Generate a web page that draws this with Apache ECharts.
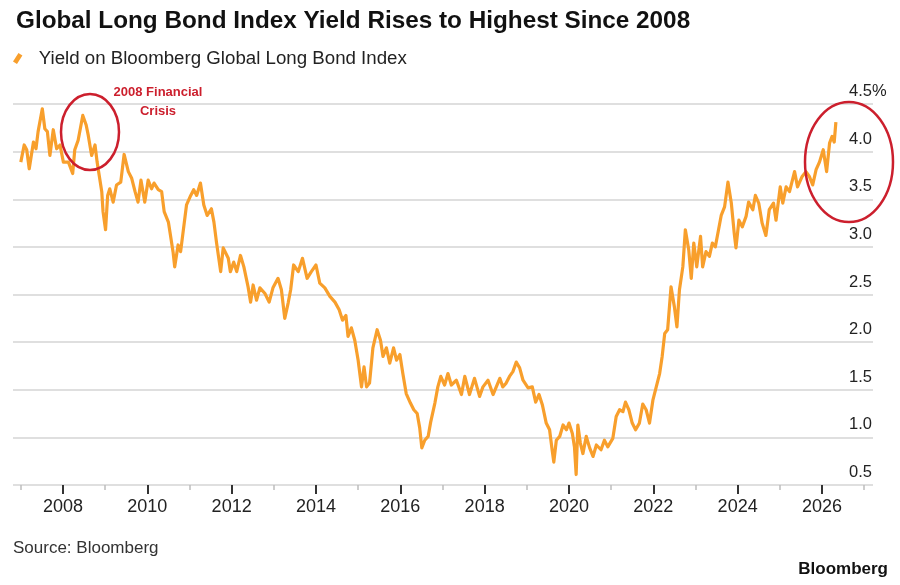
<!DOCTYPE html>
<html>
<head>
<meta charset="utf-8">
<script src="https://cdn.jsdelivr.net/npm/echarts@6/dist/echarts.min.js"></script>
<style>
html,body{margin:0;padding:0;background:#fff;}
#chart{width:900px;height:585px;}
</style>
</head>
<body>
<div id="chart"></div>
<script>
// ---- data (decimal year, yield %) ----
var years = [
2007.00,2007.08,2007.14,2007.20,2007.30,2007.36,2007.41,2007.51,2007.57,2007.63,2007.69,2007.77,2007.85,2007.93,
2008.01,2008.13,2008.23,2008.28,2008.36,2008.47,2008.55,2008.60,2008.68,2008.76,2008.81,2008.86,2008.92,2008.95,
2009.01,2009.06,2009.11,2009.19,2009.27,2009.37,2009.45,2009.55,2009.63,2009.71,2009.78,2009.85,2009.94,
2010.02,2010.10,2010.16,2010.26,2010.34,2010.40,2010.50,2010.55,2010.61,2010.65,2010.73,2010.79,2010.85,2010.93,
2011.03,2011.10,2011.17,2011.26,2011.34,2011.42,2011.52,2011.58,2011.64,2011.74,2011.80,2011.92,2011.97,
2012.05,2012.12,2012.21,2012.29,2012.39,2012.45,2012.51,2012.59,2012.67,2012.79,2012.89,2012.98,
2013.10,2013.18,2013.26,2013.34,2013.40,2013.47,2013.58,2013.68,2013.79,2013.89,
2014.00,2014.09,2014.21,2014.33,2014.45,2014.55,2014.63,2014.71,2014.76,2014.84,2014.92,
2015.00,2015.08,2015.14,2015.20,2015.27,2015.35,2015.45,2015.53,2015.59,2015.67,2015.75,2015.84,2015.91,2015.99,
2016.06,2016.14,2016.24,2016.32,2016.40,2016.46,2016.51,2016.58,2016.66,2016.72,2016.82,2016.89,2016.96,
2017.05,2017.13,2017.21,2017.33,2017.45,2017.53,2017.64,2017.76,2017.88,2017.96,
2018.08,2018.20,2018.36,2018.43,2018.51,2018.59,2018.67,2018.75,2018.83,2018.91,
2019.03,2019.13,2019.21,2019.29,2019.37,2019.46,2019.54,2019.60,2019.64,2019.70,2019.78,2019.86,2019.94,
2020.00,2020.08,2020.13,2020.17,2020.21,2020.27,2020.33,2020.41,2020.49,2020.57,2020.65,2020.76,2020.84,2020.92,
2021.04,2021.12,2021.20,2021.28,2021.34,2021.42,2021.50,2021.58,2021.67,2021.75,2021.83,2021.91,2021.99,
2022.07,2022.15,2022.21,2022.27,2022.34,2022.42,2022.50,2022.56,2022.62,2022.70,2022.76,2022.84,2022.90,2022.96,
2023.03,2023.12,2023.17,2023.25,2023.33,2023.40,2023.47,2023.53,2023.61,2023.69,2023.77,2023.85,2023.92,2023.96,
2024.03,2024.11,2024.20,2024.26,2024.36,2024.42,2024.50,2024.58,2024.67,2024.75,2024.85,2024.91,
2025.01,2025.07,2025.15,2025.23,2025.35,2025.42,2025.53,2025.62,2025.70,2025.78,2025.86,2025.94,
2026.03,2026.11,2026.18,2026.24,2026.29,2026.33
];
var yields = [
3.89,4.07,4.02,3.82,4.10,4.03,4.21,4.45,4.24,4.21,3.96,4.23,4.03,4.07,
3.89,3.89,3.77,4.02,4.12,4.38,4.28,4.17,3.96,4.07,3.89,3.75,3.58,3.37,
3.18,3.54,3.61,3.47,3.65,3.68,3.97,3.79,3.72,3.58,3.47,3.70,3.47,
3.70,3.61,3.67,3.60,3.58,3.37,3.26,3.12,2.95,2.79,3.02,2.95,3.16,3.44,
3.54,3.60,3.54,3.67,3.44,3.33,3.40,3.26,3.05,2.74,2.99,2.88,2.74,
2.84,2.74,2.91,2.79,2.58,2.42,2.60,2.44,2.57,2.51,2.42,2.57,
2.67,2.55,2.25,2.41,2.55,2.81,2.74,2.88,2.67,2.74,
2.81,2.62,2.57,2.48,2.42,2.34,2.23,2.28,2.06,2.15,2.02,
1.81,1.53,1.74,1.53,1.57,1.94,2.13,2.02,1.85,1.94,1.78,1.94,1.81,1.87,
1.67,1.46,1.36,1.29,1.25,1.10,0.89,0.97,1.01,1.16,1.36,1.53,1.64,
1.55,1.67,1.55,1.60,1.45,1.64,1.45,1.62,1.43,1.53,
1.60,1.45,1.62,1.53,1.57,1.64,1.69,1.79,1.73,1.60,
1.52,1.53,1.37,1.45,1.34,1.15,1.08,0.87,0.74,0.97,1.01,1.13,1.08,
1.15,1.04,0.90,0.61,1.13,0.94,0.83,1.01,0.89,0.80,0.92,0.87,0.97,0.90,
0.99,1.22,1.29,1.27,1.37,1.29,1.15,1.08,1.15,1.35,1.29,1.15,1.39,
1.53,1.67,1.85,2.09,2.13,2.58,2.37,2.16,2.55,2.79,3.18,2.97,2.67,3.04,
2.79,3.11,2.79,2.95,2.90,3.04,3.00,3.14,3.33,3.42,3.68,3.46,3.14,2.99,
3.28,3.21,3.32,3.47,3.39,3.54,3.46,3.25,3.12,3.39,3.46,3.28,
3.63,3.46,3.63,3.58,3.79,3.63,3.74,3.79,3.74,3.65,3.81,3.89,
4.02,3.79,4.09,4.16,4.10,4.31
];
var majorYears = [2008,2010,2012,2014,2016,2018,2020,2022,2024,2026];
var minorYears = [2007,2009,2011,2013,2015,2017,2019,2021,2023,2025,2027];
var seriesName = 'Yield on Bloomberg Global Long Bond Index';
var titleText = 'Global Long Bond Index Yield Rises to Highest Since 2008';
var sourceText = 'Source: Bloomberg';
var brandText = 'Bloomberg';
var noteText = '2008 Financial\nCrisis';

var points = years.map(function (y, i) { return [y, yields[i]]; });
var FONT = '"Liberation Sans", Arial, Helvetica, sans-serif';
var ORANGE = '#f89f2c';
var RED = '#cc1f2d';
var xMin = 2006.815, xMax = 2027.21;

var chart = echarts.init(document.getElementById('chart'), null, {renderer: 'canvas'});
chart.setOption({
  animation: false,
  backgroundColor: '#ffffff',
  textStyle: {fontFamily: FONT},
  title: {
    text: titleText,
    left: 11, top: 4,
    textStyle: {fontSize: 24.3, fontWeight: 'bold', color: '#111', fontFamily: FONT}
  },
  legend: {
    data: [seriesName],
    left: 8, top: 44,
    icon: 'path://M0,8.5 L5.5,0 L9.5,2.6 L4,11.1 Z',
    itemWidth: 10, itemHeight: 11,
    textStyle: {fontSize: 18.7, color: '#222', fontFamily: FONT, padding: [0, 0, 0, 11]}
  },
  grid: {left: 13, right: 27, top: 104, bottom: 100, containLabel: false},
  xAxis: [{
    type: 'value', min: xMin, max: xMax,
    axisLine: {show: false, onZero: false},
    splitLine: {show: false},
    axisTick: {show: true, customValues: majorYears, length: 9, lineStyle: {color: '#333', width: 2}},
    axisLabel: {customValues: majorYears, margin: 13, fontSize: 18, color: '#222', fontFamily: FONT,
      formatter: function (v) { return String(Math.round(v)); }}
  }, {
    type: 'value', min: xMin, max: xMax, position: 'bottom',
    axisLine: {show: false, onZero: false},
    splitLine: {show: false},
    axisTick: {show: true, customValues: minorYears, length: 5, lineStyle: {color: '#bdbdbd', width: 1.5}},
    axisLabel: {show: false}
  }],
  yAxis: {
    type: 'value', position: 'right', min: 0.5, max: 4.5, interval: 0.5,
    axisLine: {show: false}, axisTick: {show: false},
    splitLine: {show: true, lineStyle: {color: '#d4d4d4', width: 1.6}},
    axisLabel: {
      inside: true, margin: 24, align: 'left', verticalAlign: 'bottom',
      padding: [0, 0, 4, 0],
      fontSize: 16.5, color: '#222', fontFamily: FONT,
      formatter: function (v) { return v === 4.5 ? '4.5%' : v.toFixed(1); }
    }
  },
  series: [{
    name: seriesName, type: 'line', data: points,
    xAxisIndex: 0, yAxisIndex: 0,
    showSymbol: false, symbol: 'none',
    lineStyle: {color: ORANGE, width: 3.2, join: 'round'},
    itemStyle: {color: ORANGE},
    z: 3
  }],
  graphic: [
    {type: 'text', left: 13, top: 540, style: {text: sourceText, font: '17px ' + FONT, fill: '#333'}},
    {type: 'text', right: 12, top: 561, style: {text: brandText, font: 'bold 17px ' + FONT, fill: '#111'}},
    {type: 'text', x: 158, y: 83, z: 10, style: {text: noteText, font: 'bold 13px ' + FONT, fill: RED, align: 'center', lineHeight: 19}},
    {type: 'ellipse', z: 10, shape: {cx: 90, cy: 132, rx: 29, ry: 38}, style: {fill: null, stroke: RED, lineWidth: 2.5}},
    {type: 'ellipse', z: 10, shape: {cx: 849, cy: 162, rx: 44, ry: 60}, style: {fill: null, stroke: RED, lineWidth: 2.5}}
  ]
});
</script>
</body>
</html>
